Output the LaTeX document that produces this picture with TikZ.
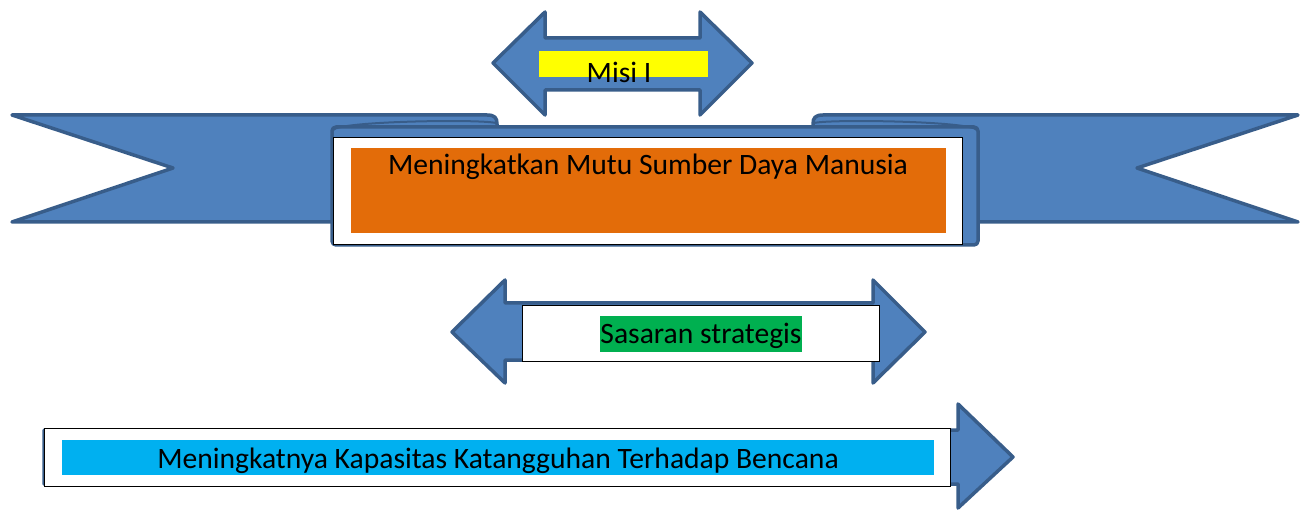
\documentclass[tikz,border=0pt]{standalone}
\usepackage{fontspec}
\setmainfont{Carlito}
\usetikzlibrary{positioning}
\definecolor{pitablue}{RGB}{79, 129, 189}
\definecolor{pitaline}{RGB}{56, 93, 138}
\definecolor{misiyellow}{RGB}{255, 255, 0}
\definecolor{mutuorange}{RGB}{227, 108, 9}
\definecolor{sasarangreen}{RGB}{0, 176, 80}
\definecolor{bencanacyan}{RGB}{0, 176, 240}
\tikzset{
  pita/.style={fill=pitablue, draw=pitaline, line width=3.5pt, line join=round},
  kotak/.style={fill=white, draw=black, line width=0.8pt},
  teks/.style={font=\fontsize{29.6}{34}\selectfont, inner sep=0pt, anchor=center}
}

\begin{document}
\begin{tikzpicture}[x=1pt, y=-1pt]
  \useasboundingbox (0,0) rectangle (1305,510);
  % panah misi
  \draw[pita] (493,63) -- (545,12) -- (545,38) -- (700,38) -- (700,12) -- (752,63) -- (700,115) -- (700,90) -- (545,90) -- (545,115) -- cycle;
  \fill[misiyellow] (539,51) rectangle (708,77);
  \node[teks] (misi) at (619,72) {Misi I};
  % pita kiri dan kanan
  \draw[pita] (12,115) -- (487,115) .. controls (495,115) and (497,118) .. (497,124) -- (497,222) -- (12,222) -- (173,168) -- cycle;
  \draw[pita] (1298,115) -- (823,115) .. controls (815,115) and (813,118) .. (813,124) -- (813,222) -- (1298,222) -- (1137,168) -- cycle;
  \draw[pita, rounded corners=4pt] (332,245) -- (332,127) -- (978,127) -- (978,245) -- cycle;
  \draw[pitaline, line width=2pt] (333,130) .. controls (340,121) and (480,119) .. (496,123);
  \draw[pitaline, line width=2pt] (814,123) .. controls (830,119) and (970,121) .. (977,130);
  \draw[kotak] (333,137) rectangle (962,244);
  \fill[mutuorange] (351,148) rectangle (946,233);
  \node[teks] (mutu) at (648,167) {Meningkatkan Mutu Sumber Daya Manusia};
  % panah sasaran
  \draw[pita] (452,332) -- (505,280) -- (505,303) -- (873,303) -- (873,280) -- (925,332) -- (873,383) -- (873,360) -- (505,360) -- (505,383) -- cycle;
  \draw[kotak] (522,305) rectangle (879,361);
  \fill[sasarangreen] (600,316) rectangle (802,352);
  \node[teks] (sasaran) at (701,336) {Sasaran strategis};
  % panah bencana
  \draw[pita] (44,430) -- (958,430) -- (958,404) -- (1013,457) -- (958,508) -- (958,484) -- (44,484) -- cycle;
  \draw[kotak] (44,428) rectangle (950,486);
  \fill[bencanacyan] (62,440) rectangle (934,475);
  \node[teks] (bencana) at (498,461) {Meningkatnya Kapasitas Katangguhan Terhadap Bencana};
\end{tikzpicture}
\end{document}
